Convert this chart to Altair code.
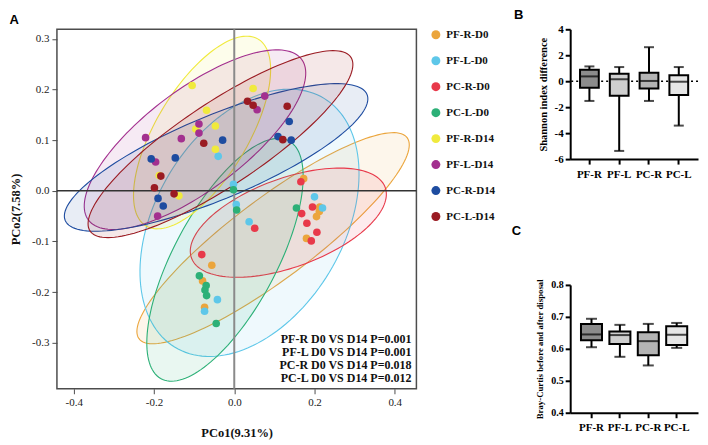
import altair as alt
import numpy as np
import pandas as pd

# ---------------- data ----------------
groups = ["PF-R-D0", "PF-L-D0", "PC-R-D0", "PC-L-D0",
          "PF-R-D14", "PF-L-D14", "PC-R-D14", "PC-L-D14"]
colors = ["#EBA53C", "#5EC7E9", "#E8394A", "#2CB077",
          "#F0EA3D", "#A3308F", "#1E4CA0", "#9A1B22"]

pfr_d0_x = [0.173, 0.213, 0.212, 0.205, 0.180, -0.056, -0.079, -0.074]
pfr_d0_y = [0.024, -0.032, -0.041, -0.051, -0.094, -0.147, -0.178, -0.230]
pfl_d0_x = [-0.040, -0.002, 0.005, 0.037, 0.200, 0.220, -0.042, -0.074]
pfl_d0_y = [0.068, 0.013, -0.027, -0.061, -0.012, -0.034, -0.215, -0.238]
pcr_d0_x = [0.166, 0.195, 0.168, 0.181, 0.206, 0.192, 0.051, -0.081]
pcr_d0_y = [0.018, -0.032, -0.045, -0.064, -0.082, -0.099, -0.074, -0.126]
pcl_d0_x = [-0.002, 0.006, 0.155, -0.087, -0.070, -0.073, -0.069, -0.045]
pcl_d0_y = [0.002, -0.038, -0.034, -0.168, -0.187, -0.196, -0.207, -0.262]
pfr_d14_x = [-0.105, 0.047, -0.069, -0.096, -0.047, -0.047, -0.187, -0.138]
pfr_d14_y = [0.208, 0.202, 0.159, 0.122, 0.128, 0.082, 0.030, -0.010]
pfl_d14_x = [-0.221, 0.076, 0.057, -0.088, -0.088, -0.132, -0.196, -0.191]
pfl_d14_y = [0.105, 0.187, 0.160, 0.132, 0.114, 0.103, 0.057, -0.050]
pcr_d14_x = [-0.207, -0.147, -0.029, -0.190, -0.177, 0.137, 0.109, 0.142]
pcr_d14_y = [0.063, 0.065, 0.100, -0.015, -0.030, 0.137, 0.107, 0.100]
pcl_d14_x = [0.033, 0.047, 0.132, -0.076, -0.183, -0.199, -0.150, 0.121]
pcl_d14_y = [0.177, 0.169, 0.167, 0.094, 0.029, 0.006, -0.006, 0.101]

annot_lines = ["PF-R D0 VS D14 P=0.001", "PF-L D0 VS D14 P=0.001",
               "PC-R D0 VS D14 P=0.018", "PC-L D0 VS D14 P=0.012"]

box_cats = ["PF-R", "PF-L", "PC-R", "PC-L"]
box_fills = ["#8c8c8c", "#cfcfcf", "#b4b4b4", "#e6e6e6"]
sh_min = [-1.52, -5.37, -1.52, -3.42]
sh_q1 = [-0.50, -1.12, -0.57, -1.06]
sh_med = [0.37, 0.15, 0.02, -0.04]
sh_q3 = [0.88, 0.57, 0.66, 0.46]
sh_max = [1.14, 1.09, 2.62, 1.09]
bc_min = [0.605, 0.575, 0.548, 0.603]
bc_q1 = [0.627, 0.615, 0.580, 0.612]
bc_med = [0.645, 0.643, 0.624, 0.644]
bc_q3 = [0.678, 0.654, 0.652, 0.671]
bc_max = [0.694, 0.675, 0.678, 0.681]

# ---------------- tables ----------------
serif = "Liberation Serif"
sans = "Liberation Sans"

xs_list = [pfr_d0_x, pfl_d0_x, pcr_d0_x, pcl_d0_x, pfr_d14_x, pfl_d14_x, pcr_d14_x, pcl_d14_x]
ys_list = [pfr_d0_y, pfl_d0_y, pcr_d0_y, pcl_d0_y, pfr_d14_y, pfl_d14_y, pcr_d14_y, pcl_d14_y]

pts = pd.concat([pd.DataFrame({"x": xs, "y": ys, "group": g})
                 for g, xs, ys in zip(groups, xs_list, ys_list)], ignore_index=True)

# 95% normal confidence ellipses computed from each group's points
r95 = np.sqrt(5.991)
t = np.linspace(0, 2 * np.pi, 145)
ell = {}
for g, xs, ys in zip(groups, xs_list, ys_list):
    P = np.column_stack([xs, ys])
    m = P.mean(axis=0)
    S = np.cov(P, rowvar=False)
    vals, vecs = np.linalg.eigh(S)
    unit = np.vstack([np.cos(t), np.sin(t)])
    E = (vecs @ (np.sqrt(vals)[:, None] * unit)) * r95 + m[:, None]
    ell[g] = pd.DataFrame({"x": E[0], "y": E[1], "i": np.arange(len(t))})

# ---------------- panel A ----------------
A_W, A_H = 360, 360
minus1 = "(datum.value < 0 ? '-' : '') + format(abs(datum.value), '.1f')"
axA = dict(grid=False, domain=False, ticks=True, tickColor="#4d4d4d", tickSize=5,
           tickWidth=1, labelFont=serif, labelFontSize=11, labelColor="#222",
           titleFont=serif, titleFontSize=12.5, titleFontWeight="bold",
           titleColor="#111", labelExpr=minus1, labelPadding=3)
X_A = alt.X("x:Q", scale=alt.Scale(domain=[-0.442, 0.454], nice=False, zero=False),
            axis=alt.Axis(title="PCo1(9.31%)", values=[-0.4, -0.2, 0.0, 0.2, 0.4],
                          titlePadding=19, **axA))
Y_A = alt.Y("y:Q", scale=alt.Scale(domain=[-0.391, 0.319], nice=False, zero=False),
            axis=alt.Axis(title="PCo2(7.58%)",
                          values=[-0.3, -0.2, -0.1, 0.0, 0.1, 0.2, 0.3],
                          titlePadding=9, **axA))

ell_layers = [
    alt.Chart(ell[g]).mark_line(stroke=c, strokeWidth=1.1, fill=c, fillOpacity=0.1,
                                clip=True).encode(x=X_A, y=Y_A, order="i:Q")
    for g, c in zip(groups, colors)
]
zero_df = pd.DataFrame({"x": [0.0], "y": [0.0]})
vline = alt.Chart(zero_df).mark_rule(color="#8a8a8a", strokeWidth=2).encode(x=X_A)
hline = alt.Chart(zero_df).mark_rule(color="#333333", strokeWidth=1.5).encode(y=Y_A)
points = alt.Chart(pts).mark_circle(size=58, opacity=1).encode(
    x=X_A, y=Y_A,
    color=alt.Color("group:N", scale=alt.Scale(domain=groups, range=colors),
                    legend=alt.Legend(title=None, orient="right", offset=14,
                                      symbolType="circle", symbolSize=80,
                                      symbolStrokeWidth=0, labelFont=serif,
                                      labelFontSize=11, labelFontWeight="bold",
                                      labelColor="#111", rowPadding=14,
                                      labelOffset=5, padding=0)))
ann = alt.Chart(zero_df).mark_text(
    text=annot_lines, align="right", baseline="alphabetic", font=serif,
    fontWeight="bold", fontSize=12, lineHeight=13, color="#111"
).encode(x=alt.value(A_W - 5), y=alt.value(A_H - 46))

chart_A = alt.layer(*ell_layers, vline, hline, points, ann).properties(
    width=A_W, height=A_H,
    title=alt.TitleParams("A", anchor="start", frame="bounds", font=sans,
                          fontSize=13, fontWeight="bold", offset=1, color="black"),
    view=alt.ViewBackground(stroke="#4d4d4d", strokeWidth=1.5))

# ---------------- panels B and C ----------------
bold_ax = dict(grid=False, domain=True, domainColor="black", domainWidth=2,
               ticks=True, tickColor="black", tickWidth=2, tickSize=5,
               labelFont=serif, labelFontWeight="bold", labelColor="black",
               titleFont=serif, titleFontWeight="bold", titleColor="black")


def box_panel(lo, q1, med, q3, hi, yscale, yaxis, band, box_w, cap_w, letter,
              t_offset, W, H, zero_line):
    df = pd.DataFrame({"g": box_cats, "lo": lo, "q1": q1, "med": med, "q3": q3, "hi": hi})
    X = alt.X("g:N", sort=box_cats, scale=band,
              axis=alt.Axis(title=None, labelAngle=0, labelFontSize=11,
                            labelPadding=4, **bold_ax))

    def Y(f):
        return alt.Y(f + ":Q", scale=yscale, axis=yaxis)

    base = alt.Chart(df)
    layers = []
    if zero_line:
        layers.append(alt.Chart(pd.DataFrame({"v": [0.0]})).mark_rule(
            color="black", strokeWidth=1.5, strokeDash=[2, 3]).encode(y=Y("v")))
    layers += [
        base.mark_rule(color="black", strokeWidth=2).encode(x=X, y=Y("lo"), y2=alt.Y2("hi")),
        base.mark_bar(stroke="black", strokeWidth=2).encode(
            x=X, y=Y("q1"), y2=alt.Y2("q3"),
            fill=alt.Fill("g:N", scale=alt.Scale(domain=box_cats, range=box_fills),
                          legend=None)),
        base.mark_tick(color="black", thickness=2, size=box_w).encode(x=X, y=Y("med")),
        base.mark_tick(color="black", thickness=2, size=cap_w).encode(x=X, y=Y("lo")),
        base.mark_tick(color="black", thickness=2, size=cap_w).encode(x=X, y=Y("hi")),
    ]
    return alt.layer(*layers).properties(
        width=W, height=H,
        title=alt.TitleParams(letter, anchor="start", frame="bounds", dx=-24,
                              font=sans, fontSize=13, fontWeight="bold",
                              offset=t_offset, color="black"),
        view=alt.ViewBackground(stroke="transparent"))


chart_B = box_panel(
    sh_min, sh_q1, sh_med, sh_q3, sh_max,
    alt.Scale(domain=[-6, 4], nice=False, zero=False),
    alt.Axis(title="Shannon index difference", values=[-6, -4, -2, 0, 2, 4],
             labelExpr="(datum.value < 0 ? '-' : '') + format(abs(datum.value), 'd')",
             labelFontSize=11, titleFontSize=10.5, titlePadding=6, labelPadding=2,
             **bold_ax),
    alt.Scale(paddingInner=0.37, paddingOuter=0.33), 19, 10, "B", 1, 128, 130, True)

chart_C = box_panel(
    bc_min, bc_q1, bc_med, bc_q3, bc_max,
    alt.Scale(domain=[0.4, 0.8], nice=False, zero=False),
    alt.Axis(title="Bray-Curtis before and after disposal",
             values=[0.4, 0.5, 0.6, 0.7, 0.8], format=".1f",
             labelFontSize=10, titleFontSize=8.8, titlePadding=6, labelPadding=2,
             **bold_ax),
    alt.Scale(paddingInner=0.26, paddingOuter=0.38), 21, 11, "C", 41, 128, 128, False)

right_col = alt.vconcat(chart_B, chart_C, spacing=44).resolve_scale(fill="independent")

chart = alt.concat(chart_A, right_col, columns=2, align="none", spacing=14).properties(
    padding=0).resolve_scale(fill="independent", color="independent").resolve_legend(
    color="independent")

chart.save("out.html", embed_options={"renderer": "svg", "actions": False})
